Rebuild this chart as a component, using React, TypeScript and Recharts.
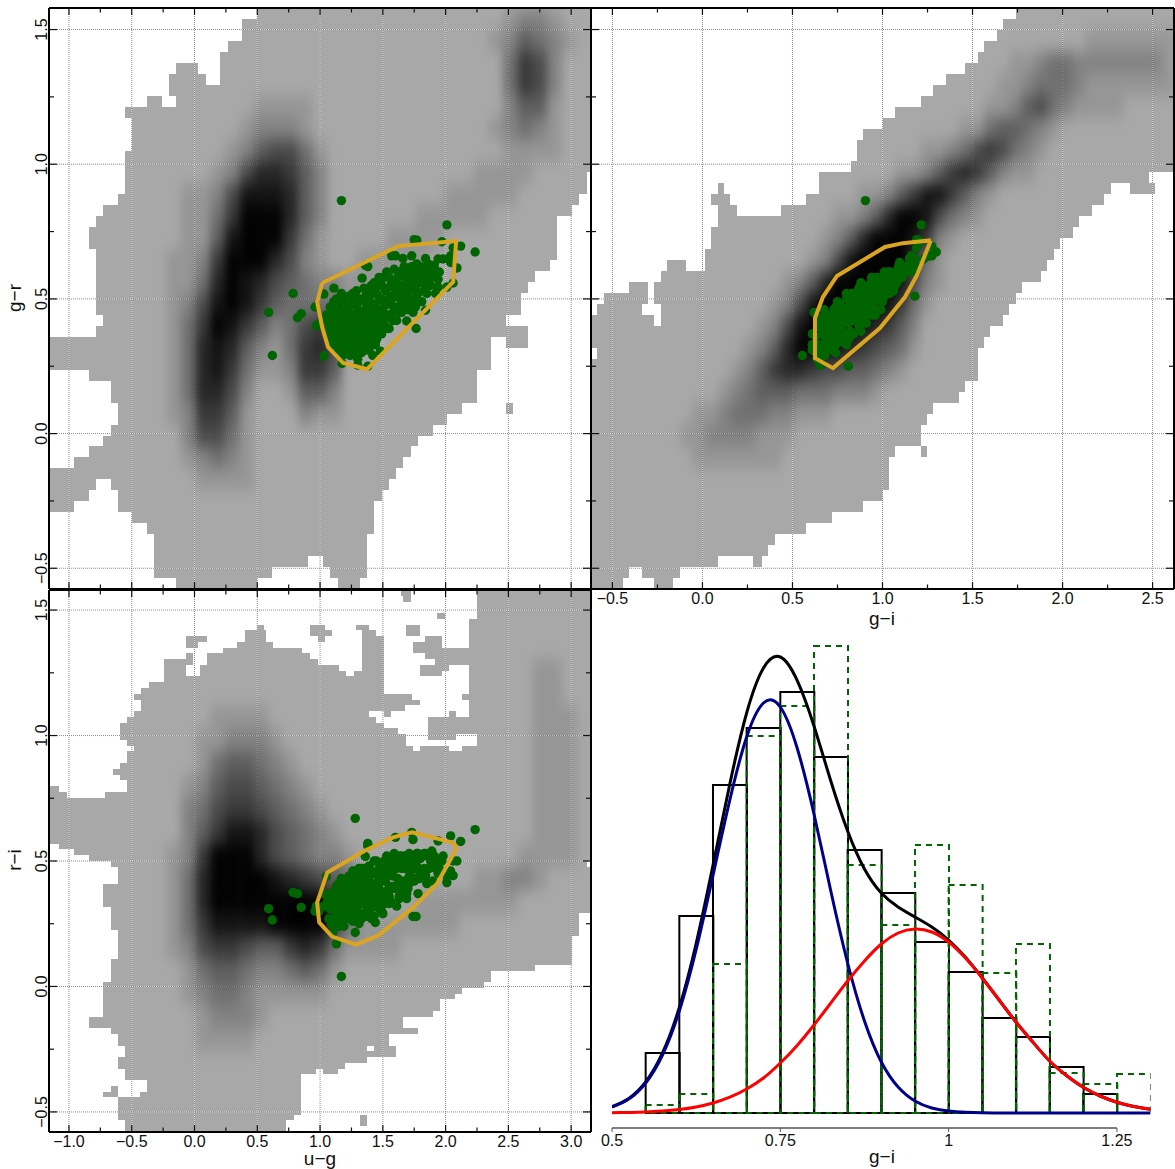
import React from "react";
import { ScatterChart, ComposedChart, BarChart, Scatter, Bar, Line, XAxis, YAxis, ReferenceArea, ReferenceLine } from "recharts";

const W = 1175, H = 1169;
const FONT = "Liberation Sans, Arial, sans-serif";
const GRAY = "#a8a8a8", GREEN = "#006400", GOLD = "#daa520";

// [firstRow, lastRow, from, to, from, to ...] in density-map bins
const MASK_UG_GR = [
  [0,0,28,74],[1,2,26,74],[3,3,24,74],[4,4,23,74],[5,5,17,20,23,74],[6,6,16,21,23,74],[7,7,16,74],[8,8,13,15,17,74],
  [9,9,10,74],[10,12,11,74],[13,14,10,74],[15,16,10,73],[17,17,9,72],[18,18,7,71],[19,19,6,69],[20,21,5,69],[22,22,6,69],
  [23,23,6,68],[24,24,6,66],[25,25,6,65],[26,27,6,64],[28,28,7,62],[29,29,6,65],[30,30,0,60,62,65],[31,32,0,60],[33,33,5,58],
  [34,35,8,58],[36,36,9,56,62,63],[37,37,9,54],[38,38,8,52],[39,39,7,50],[40,40,5,49],[41,41,3,48],[42,42,0,47],
  [43,43,0,6,8,46],[44,44,0,5,9,45],[45,45,0,3,9,44],[46,46,11,44],[47,47,13,44],[48,49,14,43],[50,50,14,35,37,43],
  [51,51,14,30,38,43],[52,52,17,28,39,42],
];
const MASK_GI_GR = [
  [0,0,67,92],[1,1,65,92],[2,2,64,92],[3,3,62,92],[4,4,61,92],[5,5,59,92],[6,6,56,92],[7,7,54,92],[8,8,52,92],[9,9,48,92],
  [10,10,46,92],[11,11,43,92],[12,13,42,92],[14,14,41,92],[15,15,36,88],[16,16,20,21,36,82,85,89],[17,17,19,22,34,81],
  [18,18,20,23,30,79],[19,19,20,77],[20,20,19,76],[21,21,19,74],[22,22,18,73],[23,23,12,15,18,72],[24,24,11,71],
  [25,25,6,9,10,68],[26,26,2,9,10,67],[27,27,1,8,11,66],[28,28,0,10,11,65],[29,29,0,63],[30,30,0,62],[31,31,1,61],
  [32,33,0,61],[34,34,0,59],[35,35,0,58],[36,36,0,54],[37,37,0,53],[38,39,0,52],[40,40,0,48,52,53],[41,43,0,47],[44,44,0,46],
  [45,45,0,43],[46,46,0,38],[47,47,0,34],[48,48,0,29],[49,49,0,28],[50,50,0,20,25.5,27],[51,51,0,6,8,14],[52,52,0,5,10,13],
];
const MASK_UG_RI = [
  [0,0,47.6,49,58,74],[1,1,48,49,58,74],[2,3,58,74],[4,4,52.6,53.6,58,74],[5,5,57,74],[6,6,28,29,35.3,37.3,41.5,43.3,48.3,50.2,57,74],
  [7,7,26.3,29.2,35.3,38.2,42.3,44.3,48.3,50.2,57,74],[8,8,18.3,21.2,26.3,29.2,36.3,37.3,42.3,45.3,51,53.3,57,74],
  [9,9,18.3,20,25.3,30.2,42.3,45.3,49.3,53.3,57,74],[10,10,23.3,34.2,42.3,45.3,49.3,74],[11,11,18.3,19.2,21.2,35.2,42.3,45.3,51,74],
  [12,12,15.3,19.2,21.2,36.3,42.3,45.3,52.3,74],[13,13,15.3,18.3,20.2,39.2,42.3,45.3,50.3,54.2,57,74],
  [14,14,15.3,18.3,20.2,40.2,41.3,45.3,50.3,53.3,57,74],[15,15,15.3,45.3,57,74],[16,16,13.2,45.3,57,74],[17,17,12.2,45.3,57,74],
  [18,18,11.2,49.2,56,74],[19,19,12.2,50.3,57,74],[20,20,12.2,48.2,57,74],[21,21,11.2,43.3,45.4,46.3,54.2,55.2,57,74],
  [22,22,10.2,44.3,51.3,74],[23,23,9.3,45.3,51.3,74],[24,24,9.3,47.2,51.3,74],[25,25,9.3,48.3,51.3,55.2,58,74],[26,26,10.2,48.3,58,74],
  [27,27,11.2,49.3,50.3,54.2,56,74],[28,29,10.2,74],[30,30,9.3,74],[31,31,8.4,74],[32,32,9.3,74],[33,33,10.2,74],[34,34,0,1,10.2,74],
  [35,35,0,2,7.2,74],[36,43,0,74],[44,44,1,74],[45,45,3,74],[46,46,5,74],[47,47,8,73],[48,50,9,74],[51,54,7,74],[55,55,8,74],
  [56,58,8,72],[59,59,9,72],[60,63,9,71],[64,64,8,71],[65,65,8,66],[66,67,8,60],[68,68,7,59],[69,69,7,56],[70,70,7,55],[71,72,7,53],
  [73,73,7,52],[74,75,5,48],[76,76,8,50],[77,78,9,46],[79,79,10,43,44,47],[80,80,10,47],[81,81,9,43],[82,82,9,40],[83,83,10,36,37,39],
  [84,84,10,34],[85,85,13,34],[86,86,8,9,13,34],[87,87,7,9,12,34],[88,90,9,34],[91,91,9,33,42,43],[92,92,10,32,42,43],[93,93,10,32],
];

// [row, firstColumn, darkness digits 0-9] on a coarse grid of two bins
const DARK_UG_GR: [number, number, string][] = [
  [0,31,"1221"],[1,30,"124321"],[2,31,"3652"],[3,31,"3652"],[4,31,"2441"],[5,30,"12321"],[6,31,"1111"],[7,29,"1111"],[8,27,"11111"],
  [9,25,"11111"],[10,23,"1111"],[11,21,"11111"],[12,19,"211111"],[13,19,"31111"],[14,19,"31"],
  [4,14,"1111"],[5,13,"12221"],[6,12,"1245531"],[7,11,"12577642"],[8,10,"125888742"],[9,10,"136999742"],[10,10,"148999631"],
  [8,9,"1"],[9,9,"1"],[10,9,"1"],[11,8,"1"],[12,8,"1"],[13,8,"1"],[14,8,"1"],[15,8,"1"],[16,8,"1"],[17,8,"1"],[18,8,"1"],
  [11,9,"1269997521"],[12,9,"1379875432"],[13,9,"2589864333"],[14,9,"3698642356"],[15,9,"37874213675"],[16,9,"37863112664"],
  [17,9,"37752001442"],[18,9,"26641000211"],[19,9,"25531"],[20,9,"12321"],[21,10,"1111"],
];
const DARK_GI_GR: [number, number, string][] = [
  [1,39,"1111111"],[2,33,"1123322222221"],[3,32,"11233321111111"],[4,31,"11245321111"],[5,29,"11344321"],[6,26,"1123565321"],
  [7,24,"11246764211"],[8,21,"11246886421"],[9,19,"112479985321"],[10,18,"12479998621"],[11,17,"12589999631"],[12,15,"1247999998521"],
  [13,14,"1258999998631"],[14,13,"1258999987642"],[15,12,"12479998765431"],[16,11,"12467765544321"],[17,10,"1234443332221"],
  [18,8,"11233322111"],[19,7,"112222111"],[20,8,"1111111"],
];
const DARK_UG_RI: [number, number, string][] = [
  [3,33,"11"],[4,33,"11"],[5,33,"111"],[6,33,"111"],[7,33,"111"],[8,33,"111"],[9,33,"111"],[10,33,"111"],[11,32,"1111"],
  [12,29,"11221"],[13,25,"1111111"],[14,22,"111111"],[15,21,"111"],
  [5,11,"1111"],[6,10,"112221"],[7,10,"1344321"],[8,9,"124554321"],[9,9,"2356654321"],[10,9,"24688754321"],[11,8,"1269997543221"],
  [12,8,"13799998765431"],[13,8,"13799999999631"],[14,8,"13688889999631"],[15,8,"1256654467631"],[16,9,"13443223431"],
  [17,9,"1233211111"],[18,10,"12221"],[19,10,"1111"],
];

// selected objects: [u-g, g-r, r-i]
const STARS_OUTER: number[][] = [
  [1.17,.865,.04],[.785,.52,.375],[.59,.45,.31],[.62,.29,.265],[.82,.43,.37],[.85,.445,.315],[2.01,.775,.44],[2.235,.674,.625],[1.28,.51,.67],
  [2.12,.696,.578],[2.06,.69,.5],[1.97,.712,.5],[2.04,.66,.6],[1.77,.718,.48],[1.75,.72,.47],[1.94,.648,.58],[1.73,.66,.614],[1.74,.6,.585],
  [1.6,.66,.594],[1.38,.62,.57],[1.36,.625,.518],[1.57,.66,.5],[1.66,.65,.5],[1.69,.418,.35],[1.765,.39,.279],[1.84,.458,.442],[2.06,.559,.442],
  [2.01,.544,.414],[1.94,.544,.5],[2.09,.615,.5],[1.91,.625,.52],[1.84,.65,.53],[1.98,.648,.52],[2.04,.635,.46],[1.86,.577,.52],[1.94,.573,.45],
  [1.42,.29,.36],[1.48,.306,.34],[1.38,.25,.56],[1.175,.26,.395],[1.3,.254,.4],[1.3,.276,.36],[1.03,.288,.37],[1.24,.31,.35],[.99,.407,.3],[.96,.47,.3],
  [1.03,.518,.32],[1.11,.54,.33],[1.335,.577,.38],[1.4,.544,.4],[1.74,.45,.279],[1.44,.4,.255],[1.28,.43,.215],[1.13,.45,.17],[1.1,.46,.215],[.97,.4,.32],[1.05,.44,.438],
];
const STARS_CORE: number[][] = [
  [1.06,.42,.34],[1.08,.37,.31],[1.08,.47,.36],[1.1,.33,.31],[1.1,.4,.33],[1.12,.45,.35],[1.12,.36,.32],[1.14,.3,.33],[1.14,.42,.31],[1.15,.49,.37],
  [1.16,.38,.29],[1.17,.34,.34],[1.18,.44,.36],[1.18,.29,.36],[1.19,.4,.3],[1.2,.36,.33],[1.2,.47,.34],[1.21,.43,.39],[1.22,.32,.32],[1.22,.39,.28],
  [1.23,.45,.31],[1.24,.35,.35],[1.25,.41,.37],[1.25,.48,.4],[1.26,.3,.34],[1.26,.38,.3],[1.27,.44,.34],[1.28,.34,.39],[1.28,.4,.27],[1.29,.47,.36],
  [1.3,.36,.32],[1.3,.42,.42],[1.31,.32,.36],[1.32,.39,.35],[1.32,.45,.29],[1.33,.5,.4],[1.34,.35,.41],[1.34,.42,.33],[1.35,.38,.38],[1.36,.46,.37],
  [1.36,.31,.33],[1.37,.41,.3],[1.38,.36,.42],[1.38,.49,.36],[1.39,.44,.44],[1.4,.34,.36],[1.4,.39,.31],[1.41,.46,.32],[1.42,.52,.41],[1.42,.37,.39],
  [1.43,.42,.45],[1.44,.33,.35],[1.45,.47,.38],[1.45,.4,.34],[1.46,.55,.44],[1.47,.44,.41],[1.48,.37,.37],[1.49,.5,.46],[1.5,.42,.29],[1.5,.46,.36],
  [1.52,.53,.42],[1.53,.39,.38],[1.54,.48,.47],[1.55,.44,.4],[1.56,.51,.34],[1.57,.56,.45],[1.58,.42,.44],[1.6,.47,.48],[1.6,.53,.39],[1.62,.58,.43],
  [1.63,.45,.36],[1.64,.5,.49],[1.65,.55,.52],[1.66,.48,.41],[1.68,.59,.47],[1.68,.52,.52],[1.7,.46,.39],[1.72,.56,.5],[1.72,.5,.44],[1.74,.61,.52],
  [1.75,.54,.42],[1.76,.47,.47],[1.78,.58,.53],[1.78,.52,.37],[1.8,.62,.51],[1.81,.49,.46],[1.82,.56,.52],[1.84,.6,.44],[1.85,.52,.41],[1.86,.63,.52],
  [1.88,.55,.5],[1.9,.59,.42],[1.92,.52,.47],
];
const STARS_SPREAD: number[][] = [
  [1.07,.39,.27],[1.09,.44,.25],[1.09,.34,.36],[1.11,.38,.38],[1.11,.49,.26],[1.13,.33,.28],[1.13,.41,.4],[1.13,.5,.3],[1.15,.37,.24],[1.15,.44,.41],
  [1.16,.3,.38],[1.16,.46,.27],[1.17,.36,.43],[1.17,.52,.33],[1.19,.33,.41],[1.19,.43,.24],[1.19,.5,.41],[1.21,.31,.3],[1.21,.37,.39],[1.21,.47,.27],
  [1.23,.34,.44],[1.23,.4,.35],[1.23,.51,.36],[1.24,.29,.39],[1.24,.44,.42],[1.26,.35,.46],[1.26,.42,.26],[1.26,.52,.31],[1.27,.31,.41],[1.27,.38,.44],
  [1.29,.33,.3],[1.29,.43,.46],[1.29,.53,.35],[1.31,.37,.47],[1.31,.41,.25],[1.31,.49,.44],[1.33,.3,.44],[1.33,.36,.27],[1.33,.44,.47],[1.35,.33,.47],
  [1.35,.43,.39],[1.35,.54,.33],[1.37,.36,.34],[1.37,.47,.46],[1.37,.52,.28],[1.39,.31,.42],[1.39,.39,.48],[1.39,.5,.3],[1.41,.36,.46],[1.41,.42,.27],
  [1.41,.55,.37],[1.43,.38,.5],[1.43,.48,.28],[1.43,.56,.32],[1.45,.35,.45],[1.45,.44,.5],[1.45,.52,.34],[1.47,.4,.47],[1.47,.5,.31],[1.47,.58,.39],
  [1.49,.37,.43],[1.49,.45,.3],[1.49,.55,.48],[1.51,.41,.5],[1.51,.49,.33],[1.51,.58,.44],[1.53,.44,.52],[1.53,.54,.35],[1.53,.6,.47],[1.55,.39,.33],
  [1.55,.49,.51],[1.55,.58,.36],[1.57,.43,.39],[1.57,.5,.45],[1.59,.46,.53],[1.59,.55,.4],[1.59,.61,.5],[1.61,.42,.32],[1.61,.51,.5],[1.61,.57,.47],
  [1.63,.47,.42],[1.63,.53,.35],[1.63,.6,.52],[1.65,.45,.47],[1.65,.5,.38],[1.67,.55,.42],[1.67,.62,.5],[1.69,.5,.5],[1.69,.57,.37],[1.71,.48,.44],
  [1.71,.53,.53],[1.71,.6,.41],[1.73,.55,.47],[1.73,.62,.47],[1.75,.5,.5],[1.75,.58,.43],[1.77,.53,.53],[1.77,.63,.52],[1.79,.56,.46],[1.79,.6,.43],
  [1.83,.53,.47],[1.83,.58,.53],[1.87,.57,.47],[1.89,.6,.54],[1.93,.58,.5],[1.95,.6,.47],
];
const STARS = [...STARS_OUTER, ...STARS_CORE, ...STARS_SPREAD];

const BOX_UG_GR = [[1.017,.559],[1.622,.696],[2.084,.715],[2.06,.563],[1.375,.239],[1.184,.262],[1.064,.321],[1.017,.395],[.977,.488],[1.017,.559]];
const BOX_GI_GR = [[1.269,.718],[1.114,.707],[1.014,.693],[.747,.585],[.669,.507],[.625,.429],[.625,.28],[.725,.243],[.986,.392],[1.125,.507],[1.192,.589],[1.269,.718]];
const BOX_UG_RI = [[2.092,.554],[2.052,.574],[1.733,.614],[1.582,.594],[1.359,.542],[1.057,.454],[.977,.335],[.993,.255],[1.096,.199],[1.287,.167],[1.463,.203],[1.742,.315],[1.932,.41],[2.092,.554]];

const UG_TICKS = [-1,-.75,-.5,-.25,0,.25,.5,.75,1,1.25,1.5,1.75,2,2.25,2.5,2.75,3];
const GI_TICKS = [-.5,-.25,0,.25,.5,.75,1,1.25,1.5,1.75,2,2.25,2.5];
const COLOR_Y_TICKS = [-.5,-.25,0,.25,.5,.75,1,1.25,1.5];
const UG_GRID = [-1,-.5,0,.5,1,1.5,2,2.5,3];
const GI_GRID = [-.5,0,.5,1,1.5,2,2.5];
const Y_GRID = [-.5,0,.5,1,1.5];

// histogram and fits
const BIN_CENTRES = [.575,.625,.675,.725,.775,.825,.875,.925,.975,1.025,1.075,1.125,1.175,1.225,1.275];
const HIST_ALL = [60,197,328,385,421,356,263,220,171,141,95,76,46,19,0];
const HIST_SEL = [8,19,149,377,407,467,248,188,268,228,140,169,40,29,39];
const FIT_X = [.5,.525,.55,.575,.6,.625,.65,.675,.7,.725,.75,.775,.8,.825,.85,.875,.9,.925,.95,.975,1,1.025,1.05,1.075,1.1,1.125,1.15,1.175,1.2,1.225,1.25,1.275,1.3];
const FIT_BLUE = [6,14,30,58,102,163.5,237.6,313,376,410,406,365,299,222,150,92,51,26,12,5,1.9,.7,.2,0,0,0,0,0,0,0,0,0,0];
const FIT_RED = [.3,.6,1,2,3.5,6,10,15.8,24,35,50,67.6,88,110,132,152,169,180,184,181,171,155,135,113,91,71,52,37.5,25.7,17,10.8,6.5,3.8];
const FIT_BLACK = [6.3,14.6,31,60,105.5,169.5,247.6,329,400,445,456,432.6,387,332,282,244,220,206,196,186,173,155.7,135,113,91,71,52,37.5,25.7,17,10.8,6.5,3.8];
const HIST_TICKS = [.5,.75,1,1.25];
const HIST_LABELS = ["0.5","0.75","1","1.25"];

const histBins = BIN_CENTRES.map((x, i) => ({ x, all: HIST_ALL[i], sel: HIST_SEL[i] }));
const fitTable = FIT_X.map((x, i) => ({ x, blue: FIT_BLUE[i], red: FIT_RED[i], black: FIT_BLACK[i] }));

const fmt = (v: number) => (v < 0 ? "\u2212" : "") + Math.abs(v).toFixed(1);
const isMajor = (v: number) => Math.abs(v * 2 - Math.round(v * 2)) < 1e-6;

const tickOf = (side: "top" | "bottom" | "left" | "right", label: boolean) => (p: any) => {
  const { x, y, payload } = p;
  const v = payload.value;
  const major = isMajor(v);
  const h = major ? 7 : 4.5, w = major ? 8 : 5;
  const l = side === "top" ? { x1: x, x2: x, y1: y, y2: y + h }
    : side === "bottom" ? { x1: x, x2: x, y1: y, y2: y - h }
    : side === "left" ? { x1: x, x2: x + w, y1: y, y2: y }
    : { x1: x, x2: x - w, y1: y, y2: y };
  return (
    <g>
      <line {...l} stroke="#111" strokeWidth={1.2} />
      {label && major && side === "bottom" && (
        <text x={x} y={y + 15} textAnchor="middle" fontSize={16} fontFamily={FONT} fill="#111">{fmt(v)}</text>
      )}
      {label && major && side === "left" && (
        <text transform={`rotate(-90 ${x - 2} ${y})`} x={x - 2} y={y} textAnchor="middle" fontSize={16} fontFamily={FONT} fill="#111">{fmt(v)}</text>
      )}
    </g>
  );
};

const cellShape = (w: number, h: number) => (p: any) => (
  <rect x={p.cx - w / 2} y={p.cy - h / 2} width={w} height={h} fill="#000" fillOpacity={p.payload.v / 9} />
);
const noShape = () => <g />;

type PanelProps = {
  id: string; left: number; right: number; top: number; bottom: number;
  xd: [number, number]; yd: [number, number]; cols: number; rows: number; colOff: number;
  mask: number[][]; dark: [number, number, string][]; xi: number; yi: number; box: number[][];
  xTicks: number[]; xGrid: number[]; xLabel: boolean; yLabel: boolean;
};

function Panel(pp: PanelProps) {
  const { id, left, right, top, bottom, xd, yd, cols, rows, colOff, mask, dark, xi, yi, box, xTicks, xGrid, xLabel, yLabel } = pp;
  const clampX = (c: number) => c <= 0 ? xd[0] : Math.min(xd[1], xd[0] + (c + colOff) * (xd[1] - xd[0]) / cols);
  const rowY = (r: number) => yd[1] - r * (yd[1] - yd[0]) / rows;
  const spans: { x1: number; x2: number; y1: number; y2: number }[] = [];
  mask.forEach((m) => {
    for (let k = 2; k + 1 < m.length; k += 2) spans.push({ x1: clampX(m[k]), x2: clampX(m[k + 1]), y1: rowY(m[1] + 1), y2: rowY(m[0]) });
  });
  const cells: { x: number; y: number; v: number }[] = [];
  dark.forEach(([r, c, s]) => {
    s.split("").forEach((ch, i) => {
      const v = Number(ch);
      if (v > 0) cells.push({ x: xd[0] + (c + i + .5) * 2 * (xd[1] - xd[0]) / cols, y: rowY((r + .5) * (rows > 60 ? 4 : 2)), v });
    });
  });
  const cw = 2 * (right - left) / cols, ch = (rows > 60 ? 4 : 2) * (bottom - top) / rows;
  const pts = STARS.map((s) => ({ x: xi === 0 ? s[0] : s[1] + s[2], y: yi === 1 ? s[1] : s[2] }));
  const boxPts = box.map((b) => ({ x: b[0], y: b[1] }));
  const frame = { stroke: "#000", strokeWidth: 2 };
  return (
    <div style={{ position: "absolute", left: 0, top: 0, pointerEvents: "none" }}>
      <ScatterChart width={W} height={H} margin={{ left: left - 1, right: W - right - 1, top: top - 1, bottom: H - bottom - 1 }}>
        <XAxis type="number" dataKey="x" domain={xd} allowDataOverflow ticks={xTicks} interval={0} height={1} orientation="bottom"
          axisLine={frame} tickLine={false} tickSize={0} tickMargin={0} tick={tickOf("bottom", xLabel)} />
        <XAxis xAxisId="t" type="number" dataKey="x" domain={xd} allowDataOverflow ticks={xTicks} interval={0} height={1} orientation="top"
          axisLine={frame} tickLine={false} tickSize={0} tickMargin={0} tick={tickOf("top", false)} />
        <YAxis type="number" dataKey="y" domain={yd} allowDataOverflow ticks={COLOR_Y_TICKS} interval={0} width={1} orientation="left"
          axisLine={frame} tickLine={false} tickSize={0} tickMargin={0} tick={tickOf("left", yLabel)} />
        <YAxis yAxisId="r" type="number" dataKey="y" domain={yd} allowDataOverflow ticks={COLOR_Y_TICKS} interval={0} width={1} orientation="right"
          axisLine={frame} tickLine={false} tickSize={0} tickMargin={0} tick={tickOf("right", false)} />
        {spans.map((s, i) => (
          <ReferenceArea key={i} x1={s.x1} x2={s.x2} y1={s.y1} y2={s.y2} fill={GRAY} fillOpacity={1} stroke="none" ifOverflow="visible" />
        ))}
        <Scatter data={cells} className={"density-" + id} shape={cellShape(cw, ch)} isAnimationActive={false} />
        {xGrid.map((v) => <ReferenceLine key={"x" + v} x={v} stroke="#8c8c8c" strokeWidth={1} strokeDasharray="1 1" />)}
        {xGrid.map((v) => <ReferenceLine key={"xw" + v} x={v} stroke="#fff" strokeOpacity={.55} strokeWidth={1} strokeDasharray="1 1" strokeDashoffset={1} />)}
        {Y_GRID.map((v) => <ReferenceLine key={"y" + v} y={v} stroke="#8c8c8c" strokeWidth={1} strokeDasharray="1 1" />)}
        {Y_GRID.map((v) => <ReferenceLine key={"yw" + v} y={v} stroke="#fff" strokeOpacity={.55} strokeWidth={1} strokeDasharray="1 1" strokeDashoffset={1} />)}
        <Scatter data={pts} fill={GREEN} shape={(p: any) => <circle cx={p.cx} cy={p.cy} r={4.7} fill={GREEN} />} isAnimationActive={false} />
        <Scatter data={boxPts} line={{ stroke: GOLD, strokeWidth: 4 }} lineType="joint" shape={noShape} isAnimationActive={false} />
      </ScatterChart>
    </div>
  );
}

const HIST_BOX = { left: 612, right: 1150.6, top: 600, bottom: 1128 };
const histMargin = { left: HIST_BOX.left, right: W - HIST_BOX.right, top: HIST_BOX.top, bottom: H - HIST_BOX.bottom - 1 };

function HistBars({ k, stroke, dash }: { k: string; stroke: string; dash?: string }) {
  return (
    <div style={{ position: "absolute", left: 0, top: 0, pointerEvents: "none" }}>
      <BarChart width={W} height={H} data={histBins} barCategoryGap={0} margin={histMargin}>
        <XAxis type="number" dataKey="x" domain={[.5, 1.3]} allowDataOverflow ticks={HIST_TICKS} height={1} axisLine={false} tick={false} tickLine={false} />
        <YAxis type="number" domain={[-15, 513]} allowDataOverflow hide width={0} />
        <Bar dataKey={k} fill="none" stroke={stroke} strokeWidth={2} strokeDasharray={dash} isAnimationActive={false} />
      </BarChart>
    </div>
  );
}

function HistFits() {
  const tick = (p: any) => {
    const i = HIST_TICKS.indexOf(p.payload.value);
    return (
      <g>
        <line x1={p.x} x2={p.x} y1={p.y} y2={p.y + 4} stroke="#555" strokeWidth={1} />
        <text x={p.x} y={p.y + 18} textAnchor="middle" fontSize={16} fontFamily={FONT} fill="#111">{HIST_LABELS[i]}</text>
      </g>
    );
  };
  return (
    <div style={{ position: "absolute", left: 0, top: 0, pointerEvents: "none" }}>
      <ComposedChart width={W} height={H} data={fitTable} margin={histMargin}>
        <XAxis type="number" dataKey="x" domain={[.5, 1.3]} allowDataOverflow ticks={HIST_TICKS} interval={0} height={1} axisLine={false}
          tickLine={false} tickSize={0} tickMargin={0} tick={tick} />
        <YAxis type="number" domain={[-15, 513]} allowDataOverflow hide width={0} />
        <ReferenceLine segment={[{ x: .5, y: -15 }, { x: 1.25, y: -15 }]} stroke="#555" strokeWidth={1.4} ifOverflow="visible" />
        <Line dataKey="black" type="natural" stroke="#000" strokeWidth={3} dot={false} isAnimationActive={false} />
        <Line dataKey="blue" type="natural" stroke="#00008b" strokeWidth={3} dot={false} isAnimationActive={false} />
        <Line dataKey="red" type="natural" stroke="#ff0000" strokeWidth={3} dot={false} isAnimationActive={false} />
      </ComposedChart>
    </div>
  );
}

export default function App() {
  return (
    <div style={{ position: "absolute", left: 0, top: 0, width: W, height: H, background: "#fff", overflow: "hidden" }}>
      <style>{`
        .recharts-reference-area-rect{shape-rendering:crispEdges}
        .density-a{filter:url(#blur-a)} .density-b{filter:url(#blur-b)} .density-c{filter:url(#blur-c)}
      `}</style>
      <svg width={0} height={0} style={{ position: "absolute" }}>
        <defs>
          <filter id="blur-a" filterUnits="userSpaceOnUse" x={49} y={8} width={542} height={581}><feGaussianBlur stdDeviation="5 8" /></filter>
          <filter id="blur-b" filterUnits="userSpaceOnUse" x={591} y={8} width={583} height={581}><feGaussianBlur stdDeviation="5 8" /></filter>
          <filter id="blur-c" filterUnits="userSpaceOnUse" x={49} y={590} width={542} height={542}><feGaussianBlur stdDeviation="5 8" /></filter>
        </defs>
      </svg>
      <Panel id="a" left={49} right={591} top={8} bottom={589} xd={[-1.159, 3.158]} yd={[-.577, 1.58]} cols={74} rows={53} colOff={.4}
        mask={MASK_UG_GR} dark={DARK_UG_GR} xi={0} yi={1} box={BOX_UG_GR} xTicks={UG_TICKS} xGrid={UG_GRID} xLabel={false} yLabel />
      <Panel id="b" left={591} right={1174} top={8} bottom={589} xd={[-.619, 2.619]} yd={[-.577, 1.58]} cols={92} rows={53} colOff={0}
        mask={MASK_GI_GR} dark={DARK_GI_GR} xi={1} yi={1} box={BOX_GI_GR} xTicks={GI_TICKS} xGrid={GI_GRID} xLabel yLabel={false} />
      <Panel id="c" left={49} right={591} top={590} bottom={1132} xd={[-1.159, 3.158]} yd={[-.58, 1.58]} cols={74} rows={94} colOff={.4}
        mask={MASK_UG_RI} dark={DARK_UG_RI} xi={0} yi={2} box={BOX_UG_RI} xTicks={UG_TICKS} xGrid={UG_GRID} xLabel yLabel />
      <HistBars k="all" stroke="#000" />
      <HistBars k="sel" stroke={GREEN} dash="6 5" />
      <HistFits />
      <svg width={W} height={H} style={{ position: "absolute", left: 0, top: 0, pointerEvents: "none" }} fontFamily={FONT} fontSize={19} fill="#111">
        <text x={882} y={625} textAnchor="middle">g{"\u2212"}i</text>
        <text x={320} y={1165} textAnchor="middle">u{"\u2212"}g</text>
        <text x={882} y={1163} textAnchor="middle">g{"\u2212"}i</text>
        <text transform="rotate(-90 21 298)" x={21} y={298} textAnchor="middle">g{"\u2212"}r</text>
        <text transform="rotate(-90 21 860)" x={21} y={860} textAnchor="middle">r{"\u2212"}i</text>
      </svg>
    </div>
  );
}
